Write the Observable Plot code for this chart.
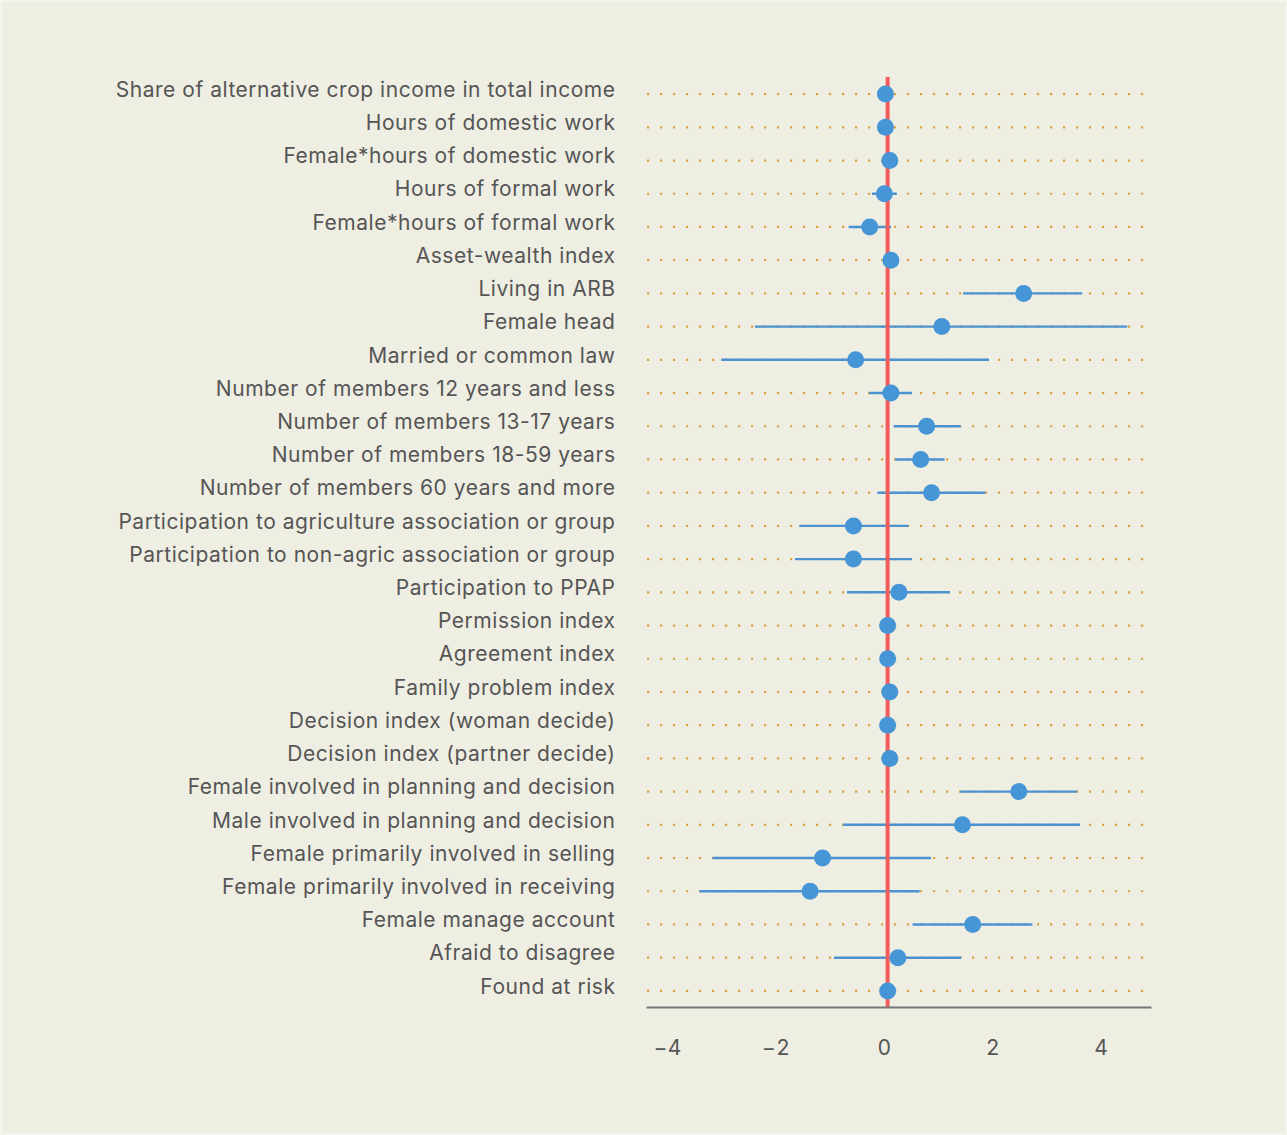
<!DOCTYPE html>
<html>
<head>
<meta charset="utf-8">
<script src="https://cdn.jsdelivr.net/npm/d3@7"></script>
<script src="https://cdn.jsdelivr.net/npm/@observablehq/plot@0.6"></script>
<style>
  html, body { margin: 0; padding: 0; background: #efeee3; }
  #chart { position: absolute; left: 0; top: 0; width: 1287px; height: 1135px; background: #efeee3; }
  #edge { position: absolute; left: 0; top: 0; width: 1287px; height: 1135px; box-sizing: border-box; border: 2px solid #f5f5f0; pointer-events: none; }
  #chart svg text { letter-spacing: 0.53px; }
</style>
</head>
<body>
<div id="chart"></div>
<div id="edge"></div>
<script>
// Regression coefficients with their confidence intervals, one row per variable
const labels = [
  "Share of alternative crop income in total income",
  "Hours of domestic work",
  "Female*hours of domestic work",
  "Hours of formal work",
  "Female*hours of formal work",
  "Asset-wealth index",
  "Living in ARB",
  "Female head",
  "Married or common law",
  "Number of members 12 years and less",
  "Number of members 13-17 years",
  "Number of members 18-59 years",
  "Number of members 60 years and more",
  "Participation to agriculture association or group",
  "Participation to non-agric association or group",
  "Participation to PPAP",
  "Permission index",
  "Agreement index",
  "Family problem index",
  "Decision index (woman decide)",
  "Decision index (partner decide)",
  "Female involved in planning and decision",
  "Male involved in planning and decision",
  "Female primarily involved in selling",
  "Female primarily involved in receiving",
  "Female manage account",
  "Afraid to disagree",
  "Found at risk"
];
const estimate = [-0.04, -0.04, 0.04, -0.06, -0.33, 0.06, 2.51, 1.00, -0.59, 0.06,
  0.72, 0.61, 0.81, -0.63, -0.63, 0.21, 0.00, 0.00, 0.04, 0.00,
  0.04, 2.42, 1.38, -1.20, -1.43, 1.57, 0.19, 0.00];
const lower = [-0.07, -0.07, 0.01, -0.28, -0.71, 0.03, 1.40, -2.44, -3.06, -0.33,
  0.12, 0.15, -0.18, -1.62, -1.70, -0.74, -0.03, -0.03, 0.01, -0.03,
  0.01, 1.35, -0.81, -3.22, -3.46, 0.47, -0.98, -0.03];
const upper = [-0.01, -0.01, 0.07, 0.18, 0.07, 0.09, 3.60, 4.43, 1.88, 0.46,
  1.36, 1.06, 1.81, 0.39, 0.46, 1.16, 0.03, 0.03, 0.07, 0.03,
  0.07, 3.50, 3.56, 0.81, 0.60, 2.68, 1.37, 0.03];
const xTicks = [-4, -2, 0, 2, 4];
const xDomain = [-4.43, 4.85];

const rows = labels.map((label, i) => ({label, estimate: estimate[i], lower: lower[i], upper: upper[i]}));

const chart = Plot.plot({
  width: 1287,
  height: 1135,
  marginLeft: 647,
  marginRight: 137,
  marginTop: 77,
  marginBottom: 128,
  style: {background: "transparent", fontFamily: "Inter, 'Noto Sans', sans-serif", fontSize: "21px", color: "#555"},
  x: {domain: xDomain, ticks: xTicks, tickFormat: d => String(d)},
  y: {type: "point", domain: labels, padding: 0.5, round: false},
  marks: [
    // dotted guide for each row
    Plot.ruleY(labels, {y: d => d, stroke: "#d9a243", strokeWidth: 2.2, strokeDasharray: "2.2 10.8"}),
    // confidence intervals
    Plot.ruleY(rows, {y: "label", x1: "lower", x2: "upper", stroke: "#4a92d1", strokeWidth: 2.4}),
    // zero reference
    Plot.ruleX([0], {stroke: "#f25c5a", strokeWidth: 4}),
    // point estimates
    Plot.dot(rows, {y: "label", x: "estimate", r: 8.5, fill: "#4695d6"}),
    Plot.axisY({tickSize: 0, tickPadding: 32, label: null, fontSize: 21, dy: -4}),
    Plot.axisX({tickSize: 0, tickPadding: 33, label: null, fontSize: 21, dx: -3}),
    Plot.frame({anchor: "bottom", stroke: "#777", strokeWidth: 2})
  ]
});
document.getElementById("chart").appendChild(chart);
</script>
</body>
</html>
